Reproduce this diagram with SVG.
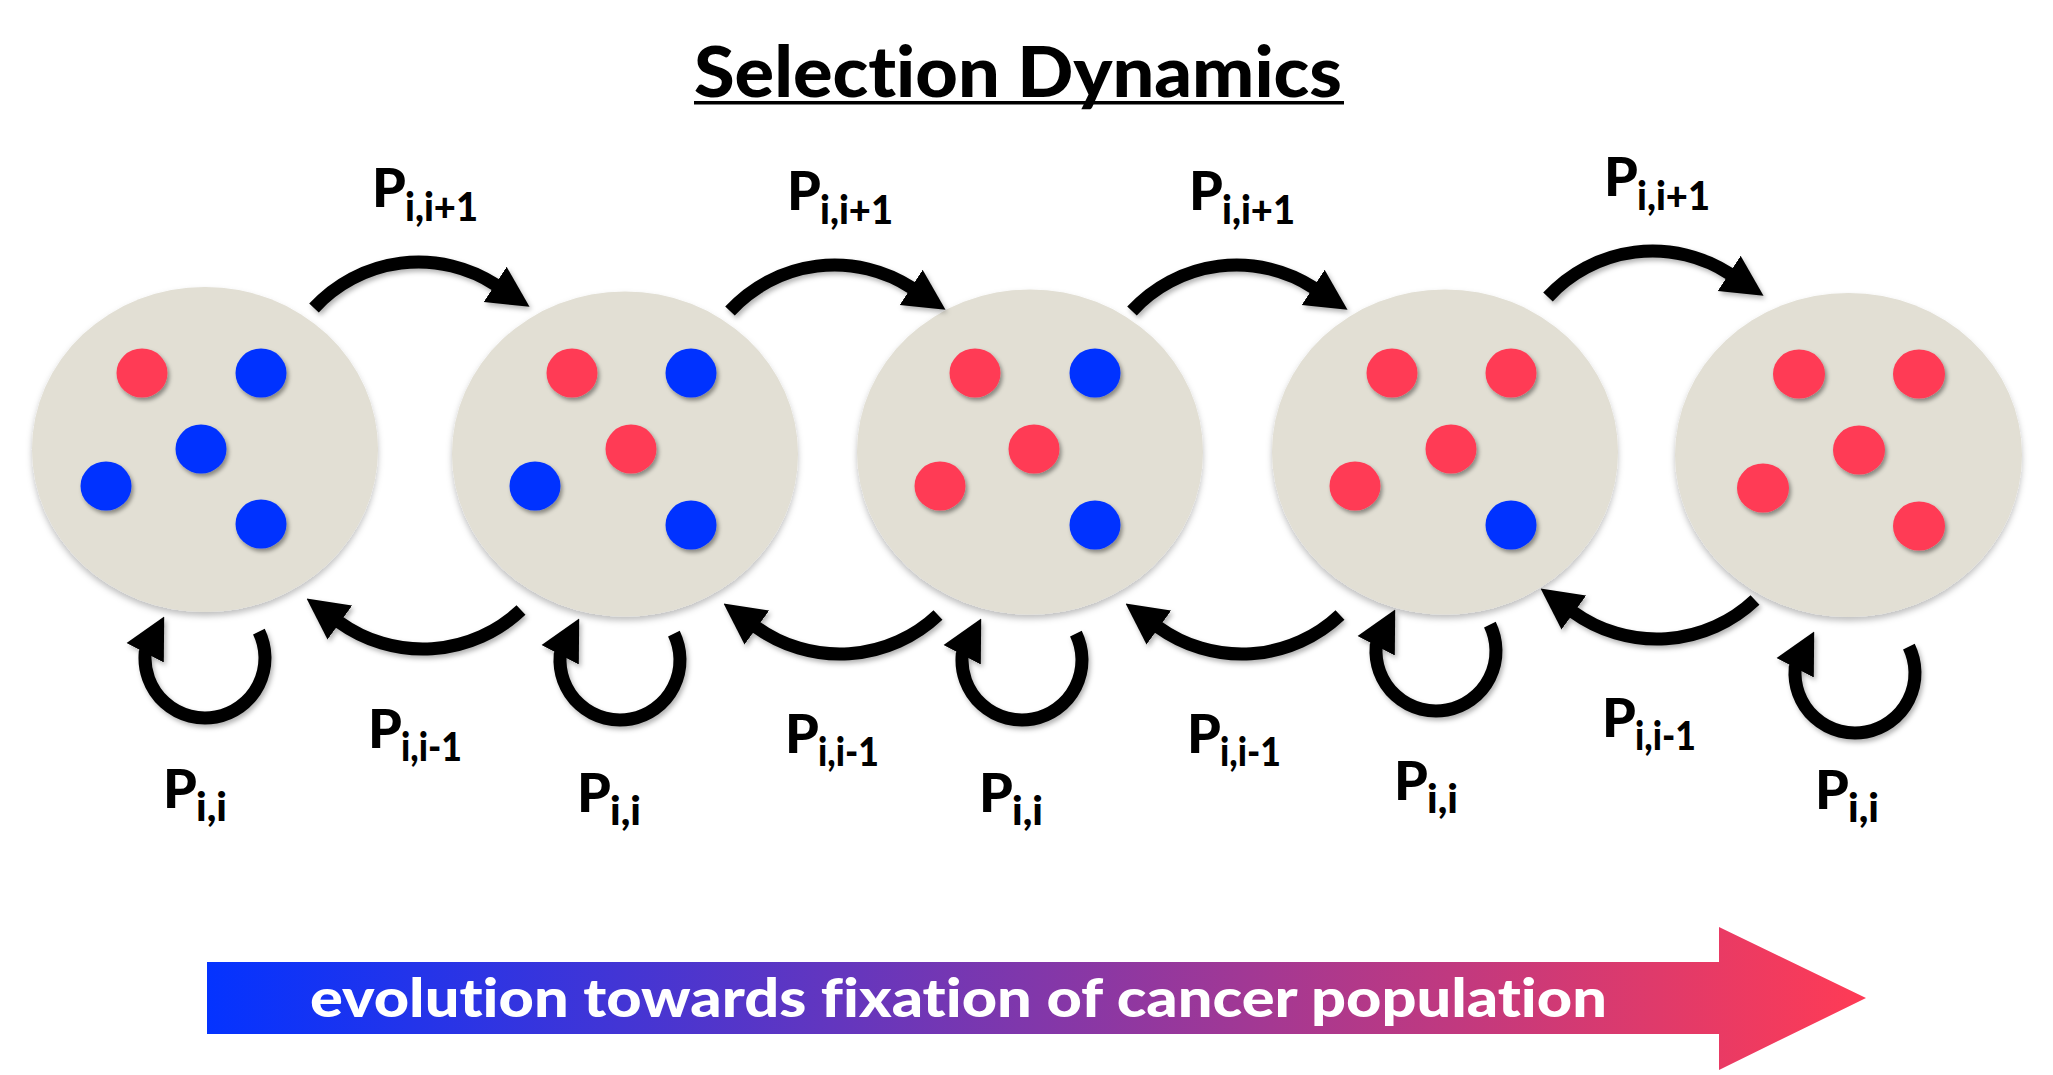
<svg xmlns="http://www.w3.org/2000/svg" width="2053" height="1075" viewBox="0 0 2053 1075">
<defs>
<style>
.cell{fill:#E2DFD4;filter:url(#shC)}
.r{fill:#FF3B55;filter:url(#shD)}
.b{fill:#0433FF;filter:url(#shD)}
.arc{fill:none;stroke:#000;stroke-width:13;marker-end:url(#ah)}
.t{font-family:Lato,'Open Sans','DejaVu Sans',sans-serif;font-weight:900;fill:#000;font-variant-ligatures:none;font-feature-settings:"liga" 0,"clig" 0}
.p{font-size:54px}
.s{font-size:39px}
</style>
<filter id="shC" x="-10%" y="-10%" width="120%" height="125%">
<feDropShadow dx="0" dy="4" stdDeviation="3" flood-color="#000" flood-opacity="0.25"/>
</filter>
<filter id="shD" x="-30%" y="-30%" width="170%" height="170%">
<feDropShadow dx="2" dy="3" stdDeviation="2" flood-color="#000" flood-opacity="0.4"/>
</filter>
<filter id="shA" x="-10%" y="-10%" width="130%" height="130%">
<feDropShadow dx="2" dy="3" stdDeviation="2.5" flood-color="#000" flood-opacity="0.3"/>
</filter>
<marker id="ah" markerUnits="userSpaceOnUse" viewBox="0 -22 41 44" refX="1" refY="0" markerWidth="41" markerHeight="44" orient="auto">
<path d="M0,-21 L41,0 L0,21 Z" fill="#000"/>
</marker>
<linearGradient id="grad" gradientUnits="userSpaceOnUse" x1="207" y1="0" x2="1866" y2="0">
<stop offset="0" stop-color="#0433FF"/>
<stop offset="1" stop-color="#FF3B55"/>
</linearGradient>
</defs>
<rect width="2053" height="1075" fill="#fff"/>

<g id="title">
<text class="t" x="694" y="97" font-size="70" textLength="648" lengthAdjust="spacingAndGlyphs">Selection Dynamics</text>
<rect x="694" y="101" width="650" height="3.5" fill="#000"/>
</g>

<g id="state1">
<ellipse class="cell" cx="205" cy="449.5" rx="173" ry="162.5"/>
<ellipse class="r" cx="142" cy="373" rx="25.5" ry="24.5"/>
<ellipse class="b" cx="261" cy="373" rx="25.5" ry="24.5"/>
<ellipse class="b" cx="201" cy="449" rx="25.5" ry="24.5"/>
<ellipse class="b" cx="106" cy="486" rx="25.5" ry="24.5"/>
<ellipse class="b" cx="261" cy="524" rx="25.5" ry="24.5"/>
</g>
<g id="state2">
<ellipse class="cell" cx="625" cy="454" rx="173" ry="162.5"/>
<ellipse class="r" cx="572" cy="373" rx="25.5" ry="24.5"/>
<ellipse class="b" cx="691" cy="373" rx="25.5" ry="24.5"/>
<ellipse class="r" cx="631" cy="449" rx="25.5" ry="24.5"/>
<ellipse class="b" cx="535" cy="486" rx="25.5" ry="24.5"/>
<ellipse class="b" cx="691" cy="525" rx="25.5" ry="24.5"/>
</g>
<g id="state3">
<ellipse class="cell" cx="1030" cy="452" rx="173" ry="162.5"/>
<ellipse class="r" cx="975" cy="373" rx="25.5" ry="24.5"/>
<ellipse class="b" cx="1095" cy="373" rx="25.5" ry="24.5"/>
<ellipse class="r" cx="1034" cy="449" rx="25.5" ry="24.5"/>
<ellipse class="r" cx="940" cy="486" rx="25.5" ry="24.5"/>
<ellipse class="b" cx="1095" cy="525" rx="25.5" ry="24.5"/>
</g>
<g id="state4">
<ellipse class="cell" cx="1445" cy="452" rx="173" ry="162.5"/>
<ellipse class="r" cx="1392" cy="373" rx="25.5" ry="24.5"/>
<ellipse class="r" cx="1511" cy="373" rx="25.5" ry="24.5"/>
<ellipse class="r" cx="1451" cy="449" rx="25.5" ry="24.5"/>
<ellipse class="r" cx="1355" cy="486" rx="25.5" ry="24.5"/>
<ellipse class="b" cx="1511" cy="525" rx="25.5" ry="24.5"/>
</g>
<g id="state5">
<ellipse class="cell" cx="1848.5" cy="455" rx="173.5" ry="162"/>
<ellipse class="r" cx="1799" cy="374" rx="26" ry="24.5"/>
<ellipse class="r" cx="1919" cy="374" rx="26" ry="24.5"/>
<ellipse class="r" cx="1859" cy="450" rx="26" ry="24.5"/>
<ellipse class="r" cx="1763" cy="488" rx="26" ry="24.5"/>
<ellipse class="r" cx="1919" cy="526" rx="26" ry="24.5"/>
</g>

<g id="connectors" filter="url(#shA)">
<path class="arc" d="M314 308 A142 142 0 0 1 496 285"/>
<path class="arc" d="M730 311 A142 142 0 0 1 912 288"/>
<path class="arc" d="M1132 311 A142 142 0 0 1 1314 288"/>
<path class="arc" d="M1548 297 A142 142 0 0 1 1730 274"/>
<path class="arc" d="M521 610 A143 143 0 0 1 339 622"/>
<path class="arc" d="M938 615 A143 143 0 0 1 756 627"/>
<path class="arc" d="M1340 615 A143 143 0 0 1 1158 627"/>
<path class="arc" d="M1755 600 A143 143 0 0 1 1573 612"/>
<path class="arc" d="M258.9 631.7 A60 60 0 1 1 145.2 652.8 l0.46 -0.88"/>
<path class="arc" d="M673.9 633.7 A60 60 0 1 1 560.2 654.8 l0.46 -0.88"/>
<path class="arc" d="M1075.9 633.7 A60 60 0 1 1 962.2 654.8 l0.46 -0.88"/>
<path class="arc" d="M1489.9 624.7 A60 60 0 1 1 1376.2 645.8 l0.46 -0.88"/>
<path class="arc" d="M1908.9 646.7 A60 60 0 1 1 1795.2 667.8 l0.46 -0.88"/>
</g>

<g id="labels">
<text class="t p" x="372" y="207">P</text><text class="t s" x="405" y="221" textLength="73" lengthAdjust="spacingAndGlyphs">i,i+1</text>
<text class="t p" x="787" y="210">P</text><text class="t s" x="820" y="224" textLength="73" lengthAdjust="spacingAndGlyphs">i,i+1</text>
<text class="t p" x="1189" y="210">P</text><text class="t s" x="1222" y="224" textLength="73" lengthAdjust="spacingAndGlyphs">i,i+1</text>
<text class="t p" x="1604" y="196">P</text><text class="t s" x="1637" y="210" textLength="73" lengthAdjust="spacingAndGlyphs">i,i+1</text>

<text class="t p" x="368" y="748">P</text><text class="t s" x="401" y="761" textLength="61" lengthAdjust="spacingAndGlyphs">i,i-1</text>
<text class="t p" x="785" y="753">P</text><text class="t s" x="818" y="766" textLength="61" lengthAdjust="spacingAndGlyphs">i,i-1</text>
<text class="t p" x="1187" y="753">P</text><text class="t s" x="1220" y="766" textLength="61" lengthAdjust="spacingAndGlyphs">i,i-1</text>
<text class="t p" x="1602" y="737">P</text><text class="t s" x="1635" y="750" textLength="61" lengthAdjust="spacingAndGlyphs">i,i-1</text>

<text class="t p" x="163" y="808">P</text><text class="t s" x="196" y="821" textLength="31" lengthAdjust="spacingAndGlyphs">i,i</text>
<text class="t p" x="577" y="812">P</text><text class="t s" x="610" y="825" textLength="31" lengthAdjust="spacingAndGlyphs">i,i</text>
<text class="t p" x="979" y="812">P</text><text class="t s" x="1012" y="825" textLength="31" lengthAdjust="spacingAndGlyphs">i,i</text>
<text class="t p" x="1394" y="800">P</text><text class="t s" x="1427" y="813" textLength="31" lengthAdjust="spacingAndGlyphs">i,i</text>
<text class="t p" x="1815" y="809">P</text><text class="t s" x="1848" y="822" textLength="31" lengthAdjust="spacingAndGlyphs">i,i</text>
</g>

<g id="evolution">
<polygon points="207,962 1719,962 1719,927 1866,998 1719,1070 1719,1034 207,1034" fill="url(#grad)"/>
<text class="t" x="310" y="1017" font-size="54" fill="#fff" style="fill:#fff" textLength="1297" lengthAdjust="spacingAndGlyphs">evolution towards fixation of cancer population</text>
</g>
</svg>
